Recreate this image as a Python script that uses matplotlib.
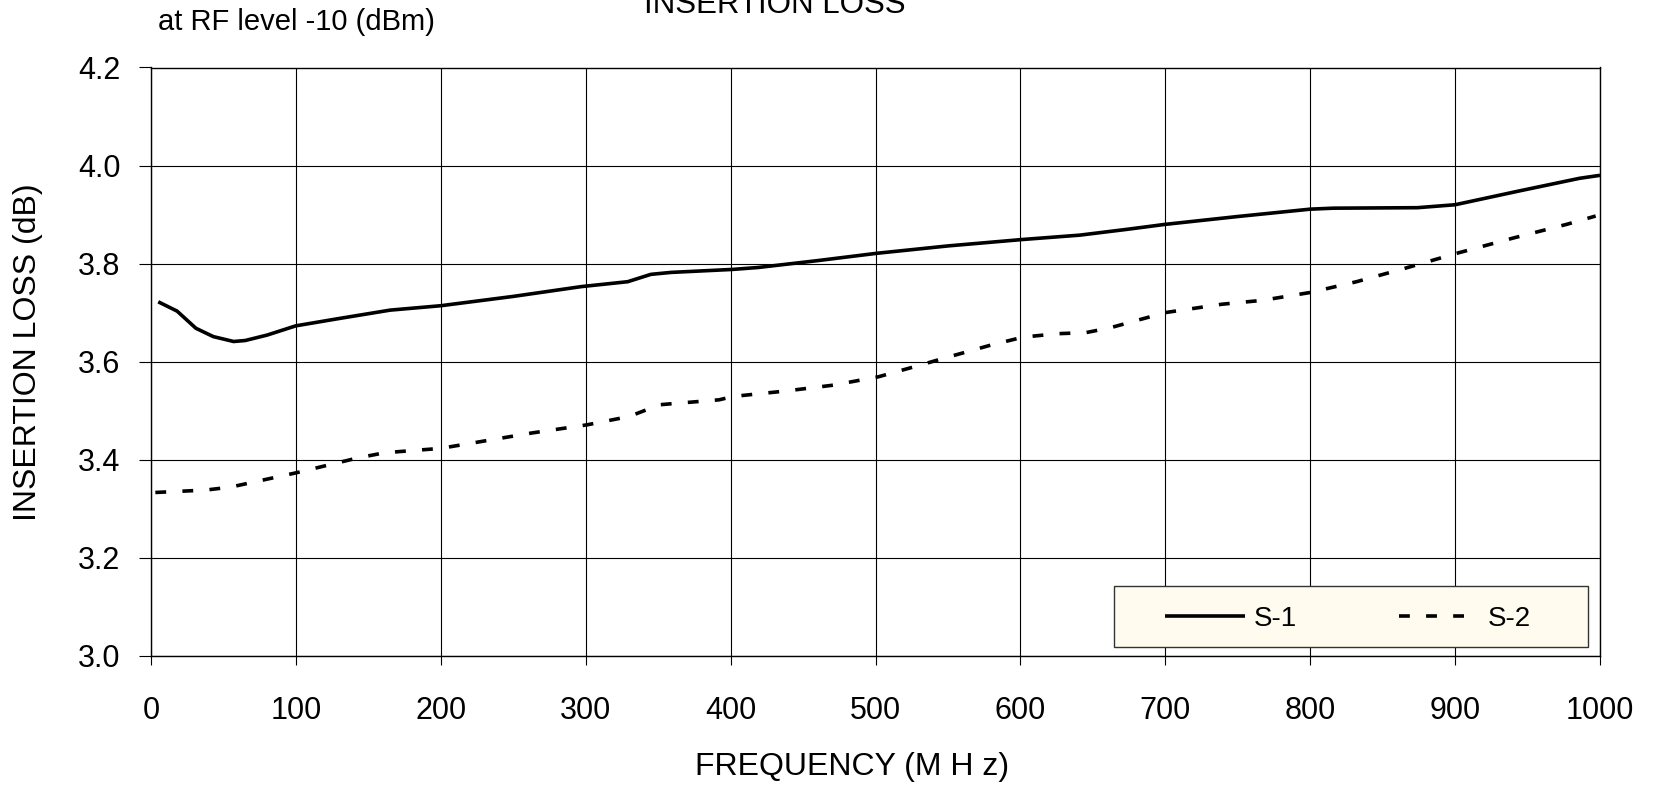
import numpy as np
import matplotlib
matplotlib.use('Agg')
import matplotlib.pyplot as plt
from matplotlib.patches import Rectangle

plt.rcParams['font.family'] = ['Liberation Sans', 'DejaVu Sans']

# S-1 (solid)
freq_s1 = [5, 18, 31, 43, 57, 65, 80, 100, 130, 165, 200, 250, 297, 329, 345, 359,
           401, 419, 460, 501, 550, 601, 641, 674, 700, 750, 800, 816, 874, 900,
           944, 986, 1000]
loss_s1 = [3.722, 3.703, 3.668, 3.651, 3.641, 3.643, 3.654, 3.673, 3.688, 3.705,
           3.714, 3.733, 3.753, 3.763, 3.778, 3.782, 3.788, 3.792, 3.806, 3.821,
           3.836, 3.849, 3.858, 3.870, 3.880, 3.896, 3.911, 3.913, 3.914, 3.920,
           3.948, 3.974, 3.980]

# S-2 (dashed)
freq_s2 = [3, 38, 55, 100, 142, 161, 200, 262, 301, 330, 351, 392, 402, 438, 471,
           502, 531, 545, 580, 602, 626, 645, 662, 700, 739, 767, 800, 832, 865,
           900, 940, 977, 997]
loss_s2 = [3.333, 3.338, 3.344, 3.373, 3.403, 3.414, 3.423, 3.454, 3.471, 3.488,
           3.512, 3.522, 3.529, 3.540, 3.552, 3.569, 3.593, 3.605, 3.634, 3.650,
           3.657, 3.659, 3.669, 3.700, 3.717, 3.725, 3.741, 3.763, 3.790, 3.820,
           3.852, 3.880, 3.897]

x_ticks = np.arange(0, 1001, 100)
y_ticks = [3.0, 3.2, 3.4, 3.6, 3.8, 4.0, 4.2]

W, H = 1653, 791
fig = plt.figure(figsize=(W / 100, H / 100), dpi=100)
ax = fig.add_axes([151 / W, 1 - 655.7 / H, (1600 - 151) / W, (655.7 - 67.5) / H])

ax.plot(freq_s1, loss_s1, color='black', lw=2.6, solid_capstyle='butt', label='S-1', zorder=3)
ax.plot(freq_s2, loss_s2, color='black', lw=2.6, dashes=(3, 4.5), dash_capstyle='butt',
        label='S-2', zorder=3)

ax.set_xlim(0, 1000)
ax.set_ylim(3.0, 4.2)
ax.set_xticks(x_ticks)
ax.set_yticks(y_ticks)
ax.set_yticklabels([f'{v:.1f}' for v in y_ticks])
ax.grid(True, color='black', lw=0.8)
ax.set_axisbelow(True)
ax.tick_params(axis='x', direction='out', length=6.5, width=0.8, labelsize=22, pad=22.5)
ax.tick_params(axis='y', direction='out', length=8.4, width=0.8, labelsize=22, pad=13.6)
for sp in ax.spines.values():
    sp.set_linewidth(1.0)

# legend box
box = Rectangle((1114 / W, 1 - 647 / H), (1588 - 1114) / W, (647 - 586) / H,
                transform=fig.transFigure, facecolor='#fffcef', edgecolor='#333333',
                lw=1.0, zorder=4, clip_on=False)
ax.add_patch(box)
leg = ax.legend(loc='center', bbox_to_anchor=(1348 / W, 1 - 619 / H),
                bbox_transform=fig.transFigure, ncol=2, frameon=False, fontsize=20,
                handlelength=2.85, handletextpad=0.32, columnspacing=3.7)
leg.set_zorder(5)

fig.text(852 / W, 1 - 767.5 / H, 'FREQUENCY (M H z)', ha='center', va='center', fontsize=23)
fig.text(28 / W, 1 - 521 / H, 'INSERTION LOSS (dB)', ha='center', va='bottom',
         rotation=90, fontsize=23)
fig.text(158 / W, 1 - 30 / H, 'at RF level -10 (dBm)', ha='left', va='baseline', fontsize=21)
fig.text(775 / W, 1 - 12.6 / H, 'INSERTION LOSS', ha='center', va='baseline', fontsize=22.5)

fig.savefig('out.png', dpi=100)
